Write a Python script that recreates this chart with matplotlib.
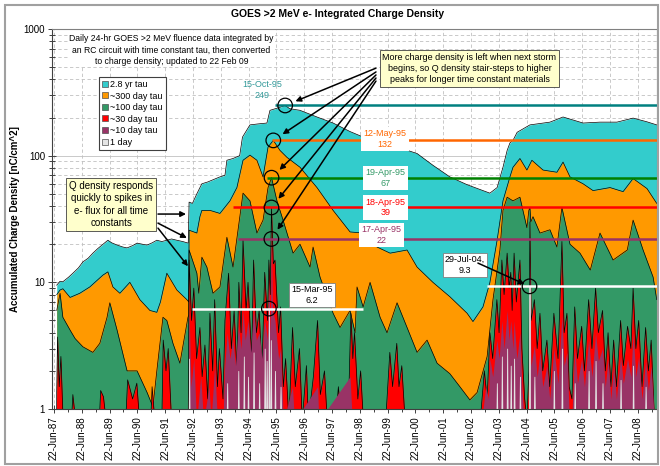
import matplotlib.pyplot as plt
from matplotlib.lines import Line2D
from matplotlib.patches import Rectangle

# ---- series (decimal year, nC/cm^2) ----
cyan_t = [1987.57, 1987.69, 1987.79, 1988.00, 1988.15, 1988.35, 1988.51, 1988.70, 1988.87, 1989.05,
          1989.20, 1989.41, 1989.55, 1989.74, 1989.95, 1990.10, 1990.30, 1990.46, 1990.65, 1990.82,
          1991.00, 1991.17, 1991.35, 1991.53, 1991.70, 1991.89, 1992.10, 1992.30, 1992.33, 1992.45,
          1992.61, 1992.79, 1993.00, 1993.44, 1993.62, 1993.69, 1993.91, 1994.15, 1994.25, 1994.52,
          1994.80, 1995.13, 1995.24, 1995.60, 1995.786, 1995.95, 1996.32, 1996.93, 1997.51, 1998.12,
          1998.60, 1999.30, 1999.92, 2000.53, 2001.10, 2001.71, 2002.33, 2002.90, 2003.15, 2003.41,
          2003.62, 2003.77, 2003.87, 2003.98, 2004.13, 2004.59, 2005.31, 2005.78, 2006.50, 2007.11,
          2007.72, 2008.30, 2008.80, 2009.15]
cyan_v = [9.5, 10.2, 10.1, 11.0, 11.8, 13.0, 14.5, 15.5, 17.0, 18.5,
          19.7, 21.5, 20.5, 19.7, 19.0, 18.7, 19.5, 20.4, 20.0, 19.7,
          20.5, 21.5, 21.0, 21.5, 22.0, 21.5, 21.0, 20.4, 43, 42,
          50, 60, 62, 68, 70, 92, 95, 100, 140, 175,
          178, 181, 228, 241, 249, 235, 228, 202, 181, 155,
          140, 126, 115, 104, 84, 68, 59, 53, 50.6, 56,
          81, 110, 126, 132, 153, 175, 184, 202, 181, 184,
          184, 198, 185, 175]

orange_t = [1987.57, 1987.69, 1987.79, 1988.05, 1988.40, 1988.76, 1989.23, 1989.41, 1989.59, 1989.84,
            1990.20, 1990.56, 1990.92, 1991.17, 1991.30, 1991.53, 1991.89, 1992.25, 1992.32, 1992.33,
            1992.61, 1992.72, 1992.79, 1993.08, 1993.44, 1993.80, 1994.05, 1994.27, 1994.52, 1994.77,
            1994.99, 1995.17, 1995.359, 1995.60, 1995.85, 1996.32, 1996.93, 1997.51, 1998.12, 1998.59,
            1999.09, 1999.56, 2000.17, 2000.53, 2001.10, 2001.71, 2002.33, 2002.54, 2002.90, 2003.15,
            2003.41, 2003.62, 2003.87, 2003.98, 2004.23, 2004.48, 2004.66, 2005.06, 2005.56, 2005.78,
            2006.03, 2006.50, 2006.86, 2007.47, 2007.94, 2008.30, 2008.80, 2009.15]
orange_v = [8.0, 8.7, 8.9, 7.6, 8.2, 9.2, 11.4, 12.1, 9.2, 8.2,
            10.0, 7.3, 6.0, 5.8, 7.0, 11.8, 8.7, 7.3, 7.0, 25.8,
            24.5, 33, 37, 37, 35, 44, 56, 92, 101, 92,
            68, 117, 132, 110, 97, 81, 56, 37, 25, 24.5,
            19, 17, 18, 13.2, 10, 7.7, 5.7, 4.9, 6.4, 10,
            21.6, 44, 68, 81, 95, 77, 92, 77, 74, 89,
            68, 60, 53, 56, 52, 66, 55, 42]

green_t = [1987.57, 1987.69, 1987.79, 1988.05, 1988.23, 1988.51, 1988.87, 1989.12, 1989.38, 1989.48,
           1989.74, 1990.10, 1990.46, 1990.82, 1991.03, 1991.17, 1991.39, 1991.53, 1991.75, 1992.00,
           1992.29, 1992.32, 1992.33, 1992.61, 1992.68, 1992.79, 1992.97, 1993.19, 1993.44, 1993.69,
           1993.91, 1994.27, 1994.52, 1994.77, 1994.99, 1995.17, 1995.296, 1995.49, 1995.71, 1996.07,
           1996.32, 1996.68, 1996.79, 1997.04, 1997.51, 1997.76, 1998.12, 1998.30, 1998.37, 1998.59,
           1998.84, 1999.20, 1999.45, 1999.81, 2000.17, 2000.53, 2000.89, 2001.25, 2001.71, 2002.07,
           2002.43, 2002.69, 2003.05, 2003.26, 2003.51, 2003.62, 2003.77, 2003.98, 2004.23, 2004.48,
           2004.55, 2004.59, 2004.62, 2004.70, 2004.95, 2005.31, 2005.56, 2005.74, 2006.03, 2006.39,
           2006.76, 2007.11, 2007.58, 2008.09, 2008.30, 2008.66, 2009.02, 2009.15]
green_v = [6.0, 8.2, 5.3, 4.2, 3.6, 3.1, 2.8, 3.3, 5.3, 6.9,
           4.2, 2.0, 2.0, 1.35, 1.04, 2.0, 5.3, 5.0, 3.3, 2.3,
           5.3, 5.5, 18, 11.8, 8.2, 15.8, 13.2, 8.2, 9.2, 22.7,
           13.2, 50.6, 44, 24.5, 31, 56, 67, 44, 31, 17,
           20, 13.2, 19, 11, 5.7, 4.4, 6.0, 4.0, 9.2, 6.4,
           10, 5.3, 4.0, 6.9, 4.4, 2.8, 3.5, 2.3, 1.9, 1.5,
           1.18, 1.35, 2.6, 7.3, 18, 37, 47, 44, 47, 27,
           37, 39, 30, 33, 24.5, 26, 19, 39, 20, 17,
           12.5, 24.5, 15, 18, 31, 18, 11, 7.3]

red_t = [1987.55, 1987.60, 1987.66, 1987.72, 1987.80, 1988.10, 1988.15, 1988.25, 1989.10, 1989.15,
         1989.25, 1989.35, 1990.05, 1990.12, 1990.30, 1990.45, 1990.55, 1990.95, 1991.00, 1991.10,
         1991.35, 1991.40, 1991.50, 1991.58, 1991.70, 1992.30, 1992.33, 1992.42, 1992.50, 1992.60,
         1992.72, 1992.80, 1992.90, 1993.00, 1993.08, 1993.18, 1993.25, 1993.35, 1993.42, 1993.55,
         1993.62, 1993.75, 1993.85, 1993.95, 1994.05, 1994.12, 1994.20, 1994.27, 1994.38, 1994.45,
         1994.58, 1994.65, 1994.75, 1994.85, 1994.95, 1995.05, 1995.15, 1995.20, 1995.25, 1995.293,
         1995.36, 1995.42, 1995.55, 1995.62, 1995.72, 1995.80, 1995.92, 1996.05, 1996.15, 1996.30,
         1996.40, 1996.55, 1996.62, 1996.80, 1996.95, 1997.05, 1997.20, 1997.30, 1997.60, 1997.70,
         1997.80, 1998.05, 1998.15, 1998.22, 1998.28, 1998.40, 1998.50, 1998.60, 1999.40, 1999.55,
         1999.65, 1999.80, 1999.88, 1999.98, 2000.10, 2002.80, 2002.95, 2003.05, 2003.15, 2003.25,
         2003.40, 2003.48, 2003.58, 2003.66, 2003.77, 2003.84, 2003.90, 2003.95, 2004.02, 2004.10,
         2004.23, 2004.30, 2004.40, 2004.48, 2004.55, 2004.59, 2004.63, 2004.75, 2004.85, 2004.95,
         2005.05, 2005.20, 2005.30, 2005.45, 2005.60, 2005.74, 2005.82, 2005.92, 2006.00, 2006.10,
         2006.20, 2006.30, 2006.45, 2006.55, 2006.70, 2006.82, 2006.95, 2007.05, 2007.20, 2007.30,
         2007.40, 2007.50, 2007.60, 2007.70, 2007.85, 2007.95, 2008.10, 2008.22, 2008.30, 2008.40,
         2008.50, 2008.62, 2008.75, 2008.85, 2008.95, 2009.05, 2009.15]
red_v = [0.8, 3.7, 1.5, 2.6, 0.8, 0.8, 1.3, 0.8, 0.8, 1.4,
         1.25, 0.8, 0.8, 1.7, 1.2, 1.6, 0.8, 0.8, 1.5, 0.8,
         0.8, 3.5, 2.0, 3.0, 0.8, 0.8, 15, 5, 9, 2.5,
         4.4, 1.8, 3.2, 1.2, 5.7, 2.0, 7.3, 1.5, 3.0, 1.2,
         5, 11.8, 3, 6, 2, 10, 4, 21.6, 6, 10,
         2.5, 15, 4, 6, 2, 12, 5, 15, 8, 39,
         14, 15, 4, 6.4, 1.5, 2.5, 0.8, 4.4, 1.5, 3,
         0.8, 2.2, 0.8, 1.8, 5, 1.3, 2.0, 0.8, 0.8, 1.5,
         0.8, 0.8, 5.7, 2.5, 4, 1.2, 2, 0.8, 0.8, 2.8,
         1.5, 3.3, 1.5, 2.2, 0.8, 0.8, 2.0, 1.2, 4, 2.5,
         7.3, 4, 15, 8, 17, 9, 12, 6, 17, 7,
         15, 3, 1.2, 0.8, 2, 30, 5, 7.3, 3, 5.7,
         2, 3.5, 1.5, 5.7, 2.5, 21, 4, 5.7, 1.5, 1.2,
         6.4, 2.5, 4.5, 2, 7.3, 3, 9, 4, 6, 2,
         4, 1.5, 3.5, 1.5, 5, 2.2, 4.5, 3, 9, 3,
         5, 1.5, 4.4, 2, 3.5, 1.0, 0.8]

purple_t = [1992.30, 1992.33, 1992.40, 1992.50, 1992.60, 1992.75, 1992.85, 1993.05, 1993.12, 1993.25,
            1993.35, 1993.55, 1993.60, 1993.70, 1993.80, 1993.90, 1994.00, 1994.10, 1994.20, 1994.27,
            1994.35, 1994.45, 1994.55, 1994.65, 1994.75, 1994.85, 1994.95, 1995.05, 1995.15, 1995.20,
            1995.25, 1995.29, 1995.33, 1995.42, 1995.55, 1995.62, 1995.72, 1996.05, 1996.12, 1996.95,
            1997.00, 1998.12, 1998.20, 2002.85, 2003.00, 2003.10, 2003.15, 2003.25, 2003.40, 2003.48,
            2003.58, 2003.66, 2003.77, 2003.84, 2003.90, 2003.98, 2004.02, 2004.12, 2004.23, 2004.30,
            2004.38, 2004.56, 2004.574, 2004.63, 2004.75, 2004.85, 2004.95, 2005.05, 2005.20, 2005.30,
            2005.45, 2005.60, 2005.74, 2005.82, 2005.92, 2006.00, 2006.10, 2006.20, 2006.30, 2006.45,
            2006.55, 2006.70, 2006.82, 2006.95, 2007.05, 2007.20, 2007.30, 2007.40, 2007.50, 2007.60,
            2007.70, 2007.85, 2007.95, 2008.10, 2008.22, 2008.30, 2008.40, 2008.50, 2008.62, 2008.75,
            2008.85, 2008.95, 2009.05, 2009.15]
purple_v = [0.8, 6, 1.5, 2.5, 0.8, 1.8, 0.8, 1.5, 0.8, 2.2,
            0.8, 0.8, 2.0, 4.0, 2.5, 3.5, 2.2, 4.5, 3.0, 6.0,
            3.5, 5.0, 2.8, 6.0, 3.5, 4.0, 2.5, 5.0, 3.5, 10,
            4.0, 22, 6.0, 5.0, 2.5, 3.0, 0.8, 1.5, 0.8, 1.5,
            0.8, 1.8, 0.8, 0.8, 1.5, 1.2, 2.5, 1.8, 3.5, 2.5,
            5.0, 3.0, 6.0, 3.5, 5.0, 3.0, 5.0, 2.5, 4.0, 1.5,
            0.8, 0.8, 15, 2.2, 3.2, 1.8, 2.8, 1.5, 2.2, 1.2,
            3.0, 1.6, 5.5, 2.2, 2.8, 0.9, 0.9, 3.0, 1.6, 2.5,
            1.5, 3.5, 1.8, 4.0, 2.4, 3.0, 1.5, 2.5, 1.2, 2.2,
            1.2, 2.6, 1.6, 2.5, 1.8, 4.0, 1.8, 2.6, 1.2, 2.4,
            1.4, 2.2, 0.9, 0.8]

day1_t = [1992.32, 1992.33, 1992.35, 1993.68, 1993.70, 1993.72, 1994.08, 1994.10, 1994.12, 1994.28,
          1994.30, 1994.32, 1994.43, 1994.45, 1994.47, 1994.63, 1994.65, 1994.67, 1994.83, 1994.85,
          1994.87, 1995.03, 1995.05, 1995.07, 1995.10, 1995.12, 1995.14, 1995.18, 1995.20, 1995.22,
          1995.25, 1995.27, 1995.29, 1995.40, 1995.42, 1995.44, 1995.60, 1995.62, 1995.64, 2003.38,
          2003.40, 2003.42, 2003.56, 2003.58, 2003.60, 2003.75, 2003.77, 2003.79, 2003.88, 2003.90,
          2003.92, 2004.00, 2004.02, 2004.04, 2004.21, 2004.23, 2004.25, 2004.565, 2004.574, 2004.583,
          2004.73, 2004.75, 2004.77, 2005.43, 2005.45, 2005.47, 2005.72, 2005.74, 2005.76, 2006.18,
          2006.20, 2006.22, 2006.68, 2006.70, 2006.72, 2006.93, 2006.95, 2006.97, 2007.18, 2007.20,
          2007.22, 2007.83, 2007.85, 2007.87, 2008.28, 2008.30, 2008.32, 2008.73, 2008.75, 2008.77]
day1_v = [0.8, 2.5, 0.8, 0.8, 1.6, 0.8, 0.8, 2.0, 0.8, 0.8,
          2.6, 0.8, 0.8, 1.8, 0.8, 0.8, 2.8, 0.8, 0.8, 1.6,
          0.8, 0.8, 3.0, 0.8, 0.8, 2.4, 0.8, 0.8, 6.2, 0.8,
          0.8, 3.5, 0.8, 0.8, 2.0, 0.8, 0.8, 1.5, 0.8, 0.8,
          1.6, 0.8, 0.8, 2.6, 0.8, 0.8, 3.0, 0.8, 0.8, 2.2,
          0.8, 0.8, 2.5, 0.8, 0.8, 1.8, 0.8, 0.8, 9.3, 0.8,
          0.8, 1.8, 0.8, 0.8, 2.0, 0.8, 0.8, 3.0, 0.8, 0.8,
          1.6, 0.8, 0.8, 2.0, 0.8, 0.8, 2.4, 0.8, 0.8, 1.6,
          0.8, 0.8, 1.7, 0.8, 0.8, 2.2, 0.8, 0.8, 1.5, 0.8]

legend_labels = ['2.8 yr tau', '~300 day tau', '~100 day tau', '~30 day tau', '~10 day tau', '1 day']
fill_colors = ['#33CCCC', '#FF9900', '#339966', '#FF0000', '#993366', '#E4E4E4']

# peak values for each time constant
peak_dates = [1995.786, 1995.359, 1995.296, 1995.293, 1995.290, 1995.200, 2004.574]
peak_values = [249, 132, 67, 39, 22, 6.2, 9.3]
peak_names = ['15-Oct-95', '12-May-95', '19-Apr-95', '18-Apr-95', '17-Apr-95', '15-Mar-95', '29-Jul-04,']
line_colors = ['#008080', '#FF6600', '#008000', '#FF0000', '#993366', 'white', 'white']
text_colors = ['#339999', '#FF6600', '#339966', '#FF0000', '#993366', 'black', 'black']
line_start = [1995.42, 1995.31, 1995.13, 1993.91, 1994.09, 1992.43, 2003.05]
line_end = [2009.16, 2009.16, 2009.16, 2009.16, 2009.16, 1998.59, 2009.16]
label_x = [1994.95, 1999.38, 1999.40, 1999.40, 1999.26, 1996.75, 2002.25]
label_y = [330, 136, 67, 39, 23.8, 7.9, 13.7]

tick_years = list(range(1987, 2009))

plt.rcParams['font.family'] = ['Liberation Sans', 'DejaVu Sans']

fig = plt.figure(figsize=(6.6, 4.66), dpi=100)
ax = fig.add_axes([52 / 660, 1 - 409 / 466, 605 / 660, 380 / 466])

series = [(cyan_t, cyan_v), (orange_t, orange_v), (green_t, green_v),
          (red_t, red_v), (purple_t, purple_v), (day1_t, day1_v)]
for i, ((t, v), col) in enumerate(zip(series, fill_colors)):
    if i == 5:
        ax.fill_between(t, 0.5, v, facecolor=col, edgecolor=col, lw=0.6, zorder=2)
    else:
        ax.fill_between(t, 0.5, v, color=col, lw=0, zorder=2)
    if i < 4:
        ax.plot(t, v, color='black', lw=0.5, zorder=2)

# reference levels
for i in range(len(peak_values)):
    ax.hlines(peak_values[i], line_start[i], line_end[i], colors=line_colors[i], lw=1.8, zorder=3)

ax.scatter(peak_dates, peak_values, s=110, facecolors='none', edgecolors='black', lw=0.9, zorder=5)

for i in range(len(peak_values)):
    txt = f'{peak_names[i]}\n{peak_values[i]:g}'
    if i == 0:
        bb = None
    elif i < 5:
        bb = dict(boxstyle='square,pad=0.25', fc='white', ec='none')
    else:
        bb = dict(boxstyle='square,pad=0.25', fc='white', ec='#808080', lw=0.6)
    ax.text(label_x[i], label_y[i], txt, ha='center', va='center', fontsize=6.5,
            color=text_colors[i], bbox=bb, zorder=6, linespacing=1.25)

ax.set_yscale('log')
ax.set_ylim(1, 1000)
ax.set_xlim(1987.40, 2009.16)
ax.set_yticks([1, 10, 100, 1000], labels=['1', '10', '100', '1000'])
ax.set_xticks([y + 0.471 for y in tick_years],
              labels=[f'22-Jun-{y % 100:02d}' for y in tick_years], rotation=90)
ax.set_xticks([y + 0.971 for y in tick_years], minor=True)
ax.tick_params(axis='both', which='major', direction='inout', length=6, width=0.7,
               labelsize=7, colors='#404040', labelcolor='black')
ax.tick_params(axis='both', which='minor', direction='inout', length=4, width=0.7, colors='#404040')
ax.tick_params(axis='y', pad=2)
ax.tick_params(axis='x', pad=2)

ax.grid(which='major', axis='x', ls=(0, (4, 3)), color='#C0C0C0', lw=0.6, zorder=0)
ax.grid(which='major', axis='y', ls='-', color='#C0C0C0', lw=0.6, zorder=0)
ax.grid(which='minor', axis='y', ls=(0, (4, 3)), color='#C0C0C0', lw=0.6, zorder=0)
ax.set_axisbelow(True)
for side in ['top', 'right']:
    ax.spines[side].set_color('#808080')
for side in ['left', 'bottom']:
    ax.spines[side].set_color('#404040')

# text and call-outs
fig.text(0.511, 1 - 14 / 466, 'GOES >2 MeV e- Integrated Charge Density',
         ha='center', va='center', fontsize=7.5, fontweight='bold')
fig.text(15 / 660, 1 - 219 / 466, 'Accumulated Charge Density [nC/cm^2]',
         ha='center', va='center', rotation=90, fontsize=7, fontweight='bold')
ax.text(0.1975, 0.945, 'Daily 24-hr GOES >2 MeV fluence data integrated by\n'
        'an RC circuit with time constant tau, then converted\n'
        'to charge density; updated to 22 Feb 09',
        transform=ax.transAxes, ha='center', va='center', fontsize=6.2, linespacing=1.3,
        bbox=dict(boxstyle='square,pad=0.1', fc='white', ec='none'), zorder=6)

yellow = dict(boxstyle='square,pad=0.3', fc='#FFFFCC', ec='#404040', lw=0.6)
ax.text(0.690, 0.896, 'More charge density is left when next storm\n'
        'begins, so Q density stair-steps to higher\n'
        'peaks for longer time constant materials',
        transform=ax.transAxes, ha='center', va='center', fontsize=6.5, linespacing=1.3,
        bbox=yellow, zorder=7)
ax.text(0.0983, 0.538, 'Q density responds\nquickly to spikes in\ne- flux for all time\nconstants',
        transform=ax.transAxes, ha='center', va='center', fontsize=7, linespacing=1.3,
        bbox=yellow, zorder=7)

arrow = dict(arrowstyle='-|>', color='black', lw=1.1, mutation_scale=8, shrinkA=0)
more_tail_y = [0.897, 0.887, 0.879, 0.871, 0.863]
for i in range(5):
    ax.annotate('', xy=(peak_dates[i], peak_values[i]), xytext=(0.5355, more_tail_y[i]),
                textcoords='axes fraction', arrowprops=dict(arrow, shrinkB=8), zorder=6)

q_tips = [(1992.22, 34.6), (1992.25, 22.4), (1992.29, 13.4)]
q_tails = [(0.1752, 0.513), (0.1752, 0.489), (0.1752, 0.476)]
for tip, tail in zip(q_tips, q_tails):
    ax.annotate('', xy=tip, xytext=tail, textcoords='axes fraction',
                arrowprops=dict(arrow, shrinkB=0), zorder=6)
ax.annotate('', xy=(peak_dates[6], peak_values[6]), xytext=(0.704, 0.384),
            textcoords='axes fraction', arrowprops=dict(arrow, shrinkB=4), zorder=6)

handles = [Line2D([], [], ls='none', marker='s', ms=4.5, mfc=c, mec='#505050', mew=0.5)
           for c in fill_colors]
leg = ax.legend(handles, legend_labels, loc='upper left', bbox_to_anchor=(0.0777, 0.874),
                fontsize=6.5, frameon=True, fancybox=False, edgecolor='#404040', framealpha=1,
                handlelength=0.7, handletextpad=0.2, labelspacing=0.28, borderpad=0.35,
                borderaxespad=0)
leg.get_frame().set_linewidth(0.8)
leg.set_zorder(8)

fig.add_artist(Rectangle((5 / 660, 2 / 466), 653 / 660, 459 / 466, transform=fig.transFigure,
                         fill=False, ec='#A0A0A0', lw=1.5))

fig.savefig('out.png', dpi=100)
